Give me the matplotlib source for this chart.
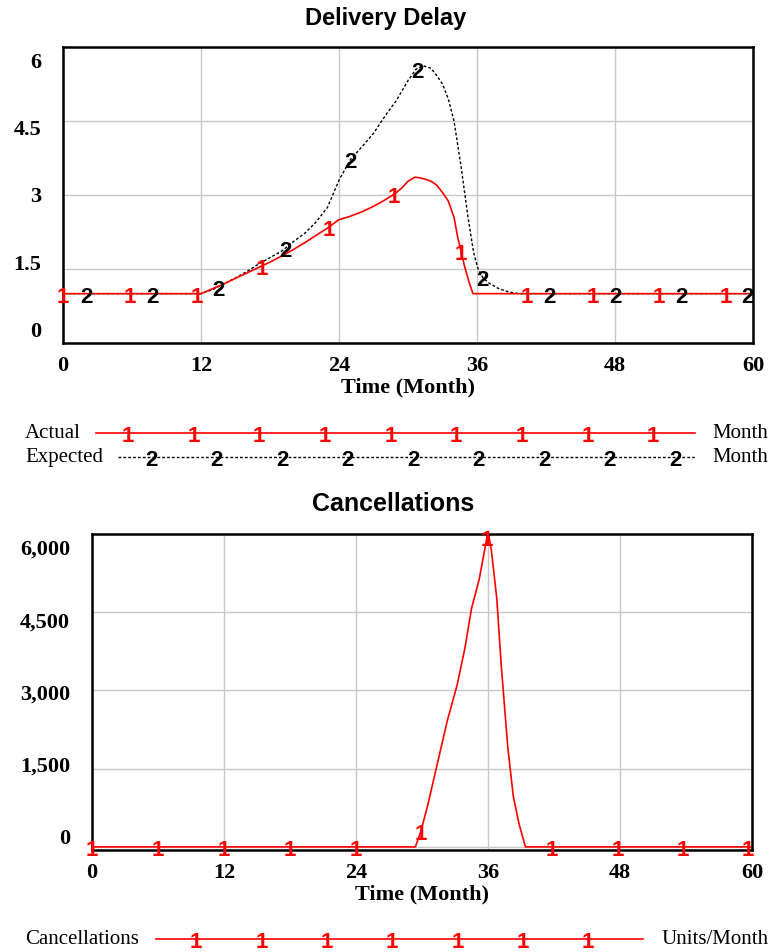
import matplotlib
matplotlib.use('Agg')
import matplotlib.pyplot as plt
import matplotlib.transforms as mtransforms
import numpy as np

# Delivery Delay, Month
t_actual = [0, 12, 13, 14, 15, 16, 17, 18, 19, 20, 21, 22, 23, 24, 25, 26, 27, 28, 29,
            29.5, 30, 30.6, 31, 31.5, 32, 32.5, 33, 33.5, 34, 34.3, 34.9, 35.3, 35.65, 60]
actual = [1.0, 1.0, 1.1, 1.2, 1.31, 1.42, 1.53, 1.64, 1.76, 1.89, 2.03, 2.18, 2.33, 2.5, 2.57,
          2.66, 2.77, 2.9, 3.05, 3.15, 3.28, 3.36, 3.35, 3.32, 3.28, 3.2, 3.05, 2.88, 2.55,
          2.17, 1.57, 1.24, 1.0, 1.0]

t_expected = [0, 12, 13, 14, 15, 16, 17, 18, 19, 20, 21, 22, 23, 24, 25, 26, 27, 28, 29, 30,
              30.7, 31.3, 32, 32.5, 33, 33.5, 34, 34.6, 35.2, 35.7, 36.1, 36.5, 37, 37.9,
              38.7, 39.6, 60]
expected = [1.0, 1.0, 1.08, 1.2, 1.32, 1.45, 1.6, 1.73, 1.86, 2.05, 2.22, 2.45, 2.75, 3.3,
            3.72, 3.98, 4.25, 4.6, 4.92, 5.32, 5.55, 5.62, 5.57, 5.42, 5.25, 4.95, 4.5, 3.6,
            2.58, 1.84, 1.5, 1.33, 1.22, 1.1, 1.04, 1.0, 1.0]

# Cancellations, Units/Month
t_cancel = [0, 29.4, 29.85, 30.5, 31.4, 32.3, 33.2, 33.9, 34.5, 35.2, 35.7, 36.0, 36.3,
            36.8, 37.2, 37.8, 38.3, 38.8, 39.4, 60]
cancellations = [0, 0, 270, 780, 1600, 2420, 3110, 3810, 4570, 5130, 5700, 6050, 5700,
                 4760, 3490, 1910, 970, 460, 0, 0]

x_ticks = [0, 12, 24, 36, 48, 60]
delay_ticks = [0, 1.5, 3, 4.5, 6]
delay_labels = ['0', '1.5', '3', '4.5', '6']
cancel_ticks = [0, 1500, 3000, 4500, 6000]
cancel_labels = ['0', '1,500', '3,000', '4,500', '6,000']

# times where the number markers sit on each line
mark_actual = [0, 5.8, 11.6, 17.3, 23.1, 28.8, 34.6, 40.3, 46.1, 51.8, 57.6]
mark_expected = [2, 7.8, 13.5, 19.3, 25, 30.8, 36.5, 42.3, 48, 53.8, 59.5]
mark_cancel = [0, 6, 12, 18, 24, 29.9, 35.9, 41.8, 47.8, 53.7, 59.6]

SERIF = 'Liberation Serif'
SANS = 'Liberation Sans'
RED = '#ff0000'
DASH = (0, (2, 1.5))
MARK_SIZE = 16

fig = plt.figure(figsize=(7.69, 9.53), dpi=100, facecolor='white')


def style_axes(ax, ylim, ticks, labels):
    ax.set_xlim(0, 60)
    ax.set_ylim(*ylim)
    ax.set_xticks(x_ticks)
    ax.set_xticklabels([str(v) for v in x_ticks], family=SERIF, weight='bold', fontsize=16)
    ax.set_yticks(ticks)
    ax.set_yticklabels([])
    ax.tick_params(length=0, pad=9)
    ax.grid(True, color='#c8c8c8', lw=1)
    ax.set_axisbelow(True)
    for sp in ax.spines.values():
        sp.set_linewidth(1.8)
    ax.set_xlabel('Time (Month)', family=SERIF, weight='bold', fontsize=16, labelpad=1)
    # vensim spreads the y labels a bit inside the frame
    n = len(ticks)
    for i, lab in enumerate(labels):
        f = i / (n - 1)
        off = mtransforms.ScaledTranslation(-22 / 100, (12 - 27 * f) / 100, fig.dpi_scale_trans)
        ax.text(0, f, lab, transform=ax.transAxes + off, ha='right', va='center',
                family=SERIF, weight='bold', fontsize=16)


def put_marks(ax, t, y, marks, num, color):
    for tm in marks:
        ax.text(tm, np.interp(tm, t, y), num, color=color, family=SANS, weight='bold',
                fontsize=MARK_SIZE, ha='center', va='center_baseline', clip_on=False, zorder=5)


# Plot-1 : Delivery Delay
ax1 = fig.add_axes([63 / 769, 1 - 344 / 953, 690 / 769, 296 / 953])
style_axes(ax1, (0, 6), delay_ticks, delay_labels)
ax1.plot(t_expected, expected, color='black', ls=DASH, lw=1)
ax1.plot(t_actual, actual, color=RED, lw=1.2)
put_marks(ax1, t_expected, expected, mark_expected, '2', 'black')
put_marks(ax1, t_actual, actual, mark_actual, '1', RED)
fig.text(386 / 769, 1 - 19 / 953, 'Delivery Delay', ha='center', va='center',
         family=SANS, weight='bold', fontsize=17)

# Plot-2 : Cancellations
ax2 = fig.add_axes([92 / 769, 1 - 851 / 953, 660 / 769, 316 / 953])
style_axes(ax2, (-60, 6000), cancel_ticks, cancel_labels)
ax2.plot(t_cancel, cancellations, color=RED, lw=1.2, clip_on=False)
put_marks(ax2, t_cancel, cancellations, mark_cancel, '1', RED)
fig.text(393 / 769, 1 - 504 / 953, 'Cancellations', ha='center', va='center',
         family=SANS, weight='bold', fontsize=18)

# legends, drawn in pixel space
lax = fig.add_axes([0, 0, 1, 1])
lax.set_xlim(0, 769)
lax.set_ylim(953, 0)
lax.axis('off')


def legend_row(y, name, unit, x0, x1, marks, num, color, ls, unit_x):
    lax.plot([x0, x1], [y, y], color=color, ls=ls, lw=1.2 if ls == '-' else 1)
    for xm in marks:
        lax.text(xm, y, num, color=color, family=SANS, weight='bold', fontsize=MARK_SIZE,
                 ha='center', va='center_baseline')
    lax.text(25, y, name, ha='left', va='center', family=SERIF, fontsize=15)
    lax.text(unit_x, y, unit, ha='left', va='center', family=SERIF, fontsize=15)


legend_row(434, 'Actual', 'Month', 96, 695, np.linspace(128, 653, 9), '1', RED, '-', 712)
legend_row(458, 'Expected', 'Month', 118, 695, np.linspace(151, 675, 9), '2', 'black', DASH, 712)
legend_row(940, 'Cancellations', 'Units/Month', 156, 643, np.linspace(196, 588, 7), '1', RED, '-', 661)

fig.savefig('out.png', dpi=100)
